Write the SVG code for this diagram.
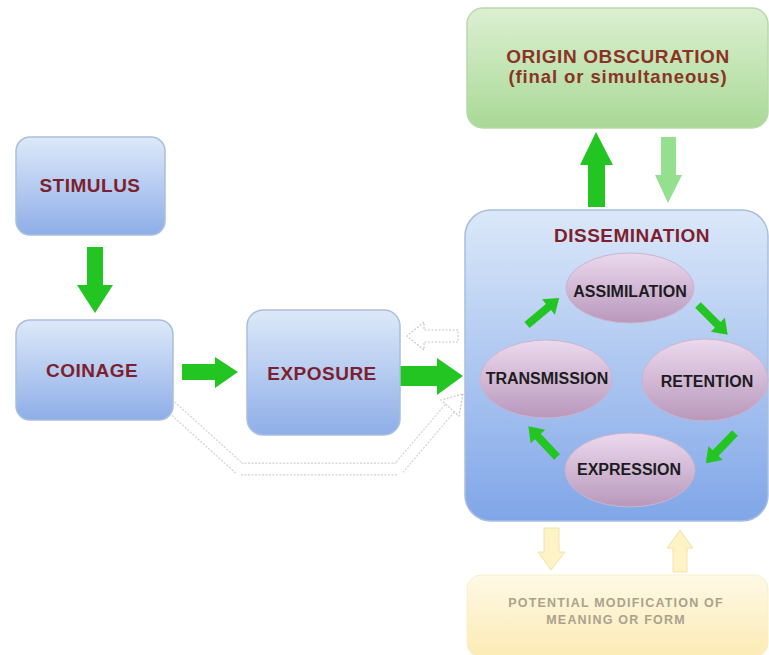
<svg xmlns="http://www.w3.org/2000/svg" width="769" height="655" viewBox="0 0 769 655">
<defs>
<linearGradient id="gBlue" x1="0" y1="0" x2="0" y2="1"><stop offset="0" stop-color="#dde9f9"/><stop offset="1" stop-color="#8eaee8"/></linearGradient>
<linearGradient id="gDis" x1="0" y1="0" x2="0" y2="1"><stop offset="0" stop-color="#dbe8f9"/><stop offset="1" stop-color="#80a6e8"/></linearGradient>
<linearGradient id="gGreen" x1="0" y1="0" x2="0" y2="1"><stop offset="0" stop-color="#dcf0d2"/><stop offset="1" stop-color="#a9d996"/></linearGradient>
<linearGradient id="gYel" x1="0" y1="0" x2="0" y2="1"><stop offset="0" stop-color="#fef9e6"/><stop offset="1" stop-color="#fcebb4"/></linearGradient>
<linearGradient id="gPurp" x1="0" y1="0" x2="0" y2="1"><stop offset="0" stop-color="#ecd9ee"/><stop offset="1" stop-color="#b898bc"/></linearGradient>
<polygon id="sa" points="0,-4 28,-4 28,-10 42,0 28,10 28,4 0,4"/>
</defs>
<style>
.box{fill:url(#gBlue);stroke:#aabfdc;stroke-width:1.5}
.lbl{font-family:"Liberation Sans",Arial,sans-serif;font-weight:bold;text-anchor:middle}
.red{fill:#7d1f2e;font-size:19px;letter-spacing:0.5px}
.ell{fill:url(#gPurp);stroke:#c9b4cf;stroke-width:1}
.el{fill:#1c1c22;font-size:16px}
.ga{fill:#22c522}
.hollow{fill:#ffffff;stroke:#c8c8c8;stroke-width:1.2;stroke-dasharray:2 1.5}
</style>
<rect width="769" height="655" fill="#ffffff"/>

<g id="connectors">
<!-- stimulus -> coinage -->
<polygon class="ga" points="87,247 103,247 103,285 113,285 95,313 77,285 87,285"/>
<!-- coinage -> exposure -->
<polygon class="ga" points="182,364 215,364 215,357 238,372 215,388 215,380 182,380"/>
<!-- exposure -> dissemination -->
<polygon class="ga" points="398,366 437,366 437,358 463,376 437,395 437,386 398,386"/>
<!-- dissemination -> origin -->
<polygon class="ga" points="588,207 605,207 605,165 613,165 596,132 580,165 588,165"/>
<!-- origin -> dissemination -->
<polygon fill="#95e090" points="661,137 676,137 676,175 682,175 668,203 655,175 661,175"/>
<!-- hollow back arrow -->
<polygon class="hollow" points="458,330 424,330 424,322 407,336 424,350 424,342 458,342"/>
<!-- dotted bypass coinage -> dissemination -->
<path d="M168,404 L240,469 L398,469 L450,408" fill="none" stroke="#d2d2d2" stroke-width="13" stroke-dasharray="2 1.5" stroke-linejoin="miter"/>
<path d="M168,404 L240,469 L398,469 L450,408" fill="none" stroke="#ffffff" stroke-width="10.5" stroke-linejoin="miter"/>
<polygon class="hollow" points="463,394 459,416 441,400"/>
<!-- yellow arrows -->
<polygon fill="#fdf3c6" stroke="#f3e2a6" stroke-width="1" points="544,528 559,528 559,552 565,552 551,570 538,552 544,552"/>
<polygon fill="#fdf3c6" stroke="#f3e2a6" stroke-width="1" points="673,572 687,572 687,548 693,548 680,530 667,548 673,548"/>
</g>

<g id="stimulus">
<rect class="box" x="16" y="137" width="149" height="98" rx="14"/>
<text class="lbl red" x="90" y="192">STIMULUS</text>
</g>
<g id="coinage">
<rect class="box" x="16" y="320" width="157" height="100" rx="14"/>
<text class="lbl red" x="92" y="377">COINAGE</text>
</g>
<g id="exposure">
<rect class="box" x="247" y="310" width="153" height="125" rx="16"/>
<text class="lbl red" x="322" y="380">EXPOSURE</text>
</g>
<g id="origin">
<rect x="467" y="8" width="301" height="120" rx="16" fill="url(#gGreen)" stroke="#b8d8aa" stroke-width="1.5"/>
<text class="lbl" x="618" y="63" fill="#8a3426" font-size="19px" letter-spacing="0.6px">ORIGIN OBSCURATION</text>
<text class="lbl" x="618" y="83" fill="#8a3426" font-size="18.5px" letter-spacing="0.9px">(final or simultaneous)</text>
</g>
<g id="dissemination">
<rect x="465" y="210" width="303" height="311" rx="26" fill="url(#gDis)" stroke="#a9bedc" stroke-width="1.5"/>
<text class="lbl red" x="632" y="242">DISSEMINATION</text>
</g>
<g id="assimilation">
<ellipse class="ell" cx="630" cy="288" rx="64" ry="35"/>
<text class="lbl el" x="630" y="297">ASSIMILATION</text>
</g>
<g id="transmission">
<ellipse class="ell" cx="546" cy="379" rx="66" ry="39"/>
<text class="lbl el" x="547" y="384" font-size="15.5px">TRANSMISSION</text>
</g>
<g id="retention">
<ellipse class="ell" cx="705" cy="380" rx="63" ry="41"/>
<text class="lbl el" x="707" y="387">RETENTION</text>
</g>
<g id="expression">
<ellipse class="ell" cx="630" cy="470" rx="65" ry="37"/>
<text class="lbl el" x="629" y="475">EXPRESSION</text>
</g>
<g id="cycle-connectors">
<use href="#sa" class="ga" transform="translate(527,325) rotate(-40)"/>
<use href="#sa" class="ga" transform="translate(698,305) rotate(45)"/>
<use href="#sa" class="ga" transform="translate(735,433) rotate(134)"/>
<use href="#sa" class="ga" transform="translate(557,457) rotate(-133)"/>
</g>
<g id="modification">
<rect x="467" y="575" width="301" height="82" rx="14" fill="url(#gYel)" stroke="#fbefc8" stroke-width="1"/>
<text class="lbl" x="616" y="607" fill="#aaa28c" font-size="12.5px" letter-spacing="1.2px">POTENTIAL MODIFICATION OF</text>
<text class="lbl" x="616" y="624" fill="#aaa28c" font-size="12.5px" letter-spacing="1.2px">MEANING OR FORM</text>
</g>
</svg>
